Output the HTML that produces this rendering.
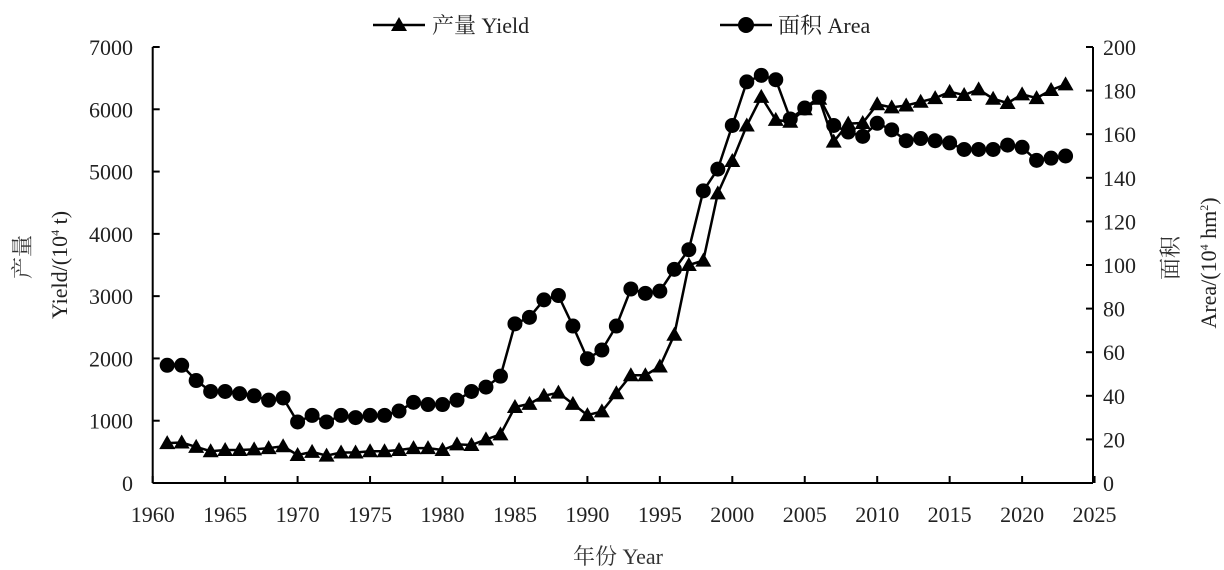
<!DOCTYPE html>
<html><head><meta charset="utf-8"><style>
html,body{margin:0;padding:0;background:#fff;}
svg{display:block;font-family:"Liberation Serif","Noto Serif CJK SC",serif;}
</style></head><body>
<svg id="s" width="1224" height="570" viewBox="0 0 1224 570" xmlns="http://www.w3.org/2000/svg">
<g id="g"></g>
<text x="618" y="564" font-size="22" text-anchor="middle" fill="#333">年份 Year</text>
<text transform="translate(30,257) rotate(-90)" font-size="22" text-anchor="middle" fill="#333">产量</text>
<text transform="translate(67,265) rotate(-90)" font-size="22" text-anchor="middle" fill="#222">Yield/(10<tspan font-size="12" dy="-8">4</tspan><tspan dy="8"> t)</tspan></text>
<text transform="translate(1178,258) rotate(-90)" font-size="22" text-anchor="middle" fill="#333">面积</text>
<text transform="translate(1216,263) rotate(-90)" font-size="22" text-anchor="middle" fill="#222">Area/(10<tspan font-size="12" dy="-8">4</tspan><tspan dy="8"> hm</tspan><tspan font-size="12" dy="-8">2</tspan><tspan dy="8">)</tspan></text>
<line x1="373" y1="25" x2="425" y2="25" stroke="#000" stroke-width="2.5"/>
<polygon points="399,17 391,31 407,31" fill="#000"/>
<text x="432" y="33" font-size="22" fill="#222">产量 Yield</text>
<line x1="720" y1="25" x2="772" y2="25" stroke="#000" stroke-width="2.5"/>
<circle cx="746" cy="25" r="8" fill="#000"/>
<text x="778" y="33" font-size="22" fill="#222">面积 Area</text>
</svg>
<script>
var g=document.getElementById('g'),h='';
var X0=152.7,PX=14.49,Y0=483,TOP=47;
function x(yr){return X0+(yr-1960)*PX;}
function yl(v){return Y0-v/7000*(Y0-TOP);}
function yr(v){return Y0-v/200*(Y0-TOP);}
h+='<line x1="'+X0+'" y1="'+TOP+'" x2="'+X0+'" y2="'+Y0+'" stroke="#000" stroke-width="2"/>';
h+='<line x1="1093" y1="'+TOP+'" x2="1093" y2="'+Y0+'" stroke="#000" stroke-width="2"/>';
h+='<line x1="'+X0+'" y1="'+Y0+'" x2="1093" y2="'+Y0+'" stroke="#000" stroke-width="2"/>';
for(var i=0;i<=7;i++){var yy=yl(i*1000);h+='<line x1="'+X0+'" y1="'+yy+'" x2="'+(X0+7)+'" y2="'+yy+'" stroke="#000" stroke-width="2"/>';
h+='<text x="133" y="'+(yy+8)+'" font-size="22" text-anchor="end" fill="#222">'+(i*1000)+'</text>';}
for(var i=0;i<=10;i++){var yy=yr(i*20);h+='<line x1="1086" y1="'+yy+'" x2="1093" y2="'+yy+'" stroke="#000" stroke-width="2"/>';
h+='<text x="1103" y="'+(yy+8)+'" font-size="22" fill="#222">'+(i*20)+'</text>';}
for(var yrr=1960;yrr<=2025;yrr+=5){var xx=x(yrr);h+='<line x1="'+xx+'" y1="'+(Y0-7)+'" x2="'+xx+'" y2="'+Y0+'" stroke="#000" stroke-width="2"/>';
h+='<text x="'+xx+'" y="'+(Y0+39)+'" font-size="22" text-anchor="middle" fill="#222">'+yrr+'</text>';}
var Y=[640,650,580,510,530,530,540,560,590,450,500,440,490,490,510,510,530,560,560,530,620,610,700,780,1220,1270,1400,1450,1270,1090,1150,1440,1730,1730,1870,2380,3500,3570,4650,5170,5740,6200,5830,5800,6000,6170,5480,5770,5780,6080,6030,6060,6120,6180,6280,6230,6320,6170,6100,6240,6180,6310,6400];
var A=[54,54,47,42,42,41,40,38,39,28,31,28,31,30,31,31,33,37,36,36,38,42,44,49,73,76,84,86,72,57,61,72,89,87,88,98,107,134,144,164,184,187,185,167,172,177,164,161,159,165,162,157,158,157,156,153,153,153,155,154,148,149,150];
var pa='',pb='';
for(var i=0;i<Y.length;i++){pa+=(i?' ':'')+x(1961+i).toFixed(1)+','+yl(Y[i]).toFixed(1);pb+=(i?' ':'')+x(1961+i).toFixed(1)+','+yr(A[i]).toFixed(1);}
h+='<polyline points="'+pb+'" fill="none" stroke="#000" stroke-width="2.5"/>';
h+='<polyline points="'+pa+'" fill="none" stroke="#000" stroke-width="2.5"/>';
for(var i=0;i<A.length;i++){h+='<circle cx="'+x(1961+i)+'" cy="'+yr(A[i])+'" r="7.5" fill="#000"/>';}
for(var i=0;i<Y.length;i++){var cx=x(1961+i),cy=yl(Y[i]);h+='<polygon points="'+cx+','+(cy-8)+' '+(cx-8)+','+(cy+6)+' '+(cx+8)+','+(cy+6)+'" fill="#000"/>';}
g.innerHTML=h;
</script>
</body></html>
